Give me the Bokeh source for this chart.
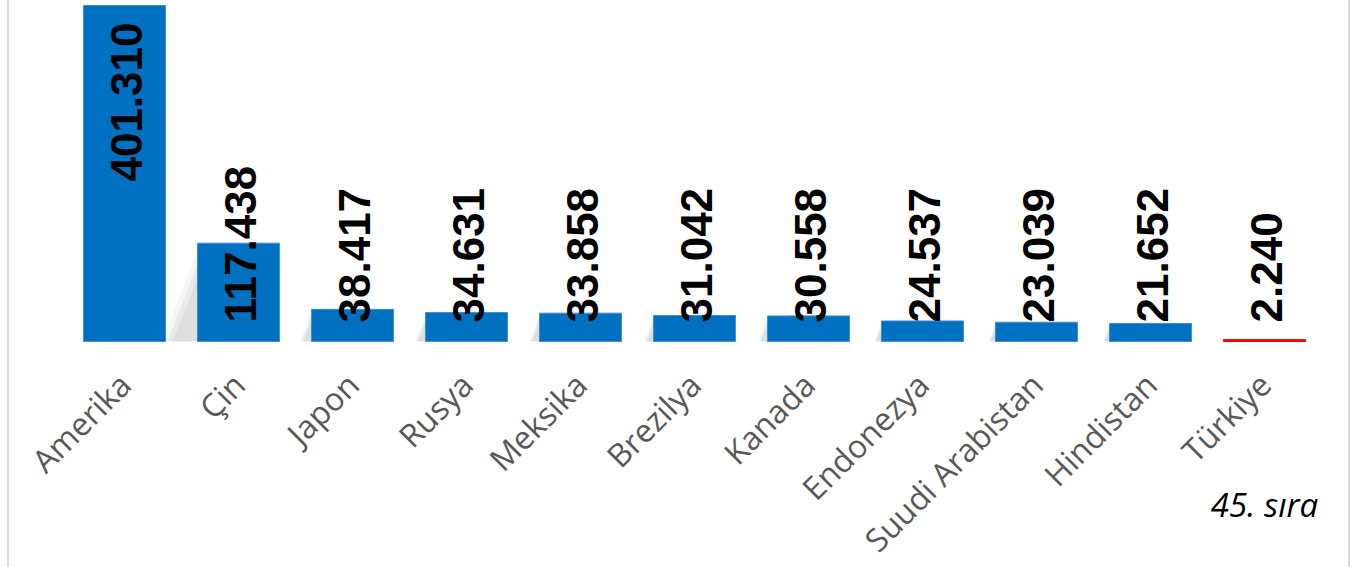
import math
from bokeh.plotting import figure
from bokeh.models import Range1d, FixedTicker, Label, ColumnDataSource
from bokeh.core.properties import value
from bokeh.embed import file_html
from bokeh.resources import INLINE

# ---- data ----
countries = ["Amerika", "Çin", "Japon", "Rusya", "Meksika", "Brezilya",
             "Kanada", "Endonezya", "Suudi Arabistan", "Hindistan", "Türkiye"]
values = [401.310, 117.438, 38.417, 34.631, 33.858, 31.042,
          30.558, 24.537, 23.039, 21.652, 2.240]
value_labels = ["401.310", "117.438", "38.417", "34.631", "33.858", "31.042",
                "30.558", "24.537", "23.039", "21.652", "2.240"]
note_text = "45. sıra"

# ---- styles ----
BLUE = "#0070C0"
RED = "#FF0000"
fill_colors = [BLUE] * (len(values) - 1) + [RED]
line_colors = ["#3f8fd2"] * (len(values) - 1) + [RED]

W, H = 1343, 567
BASE_PX = 341                     # baseline distance from top
PX_PER_VAL = 336 / 401.310
Y_END = BASE_PX / PX_PER_VAL
Y_START = -(H - BASE_PX) / PX_PER_VAL
PX_PER_X = 114.0
X_START = (9 - 124) / PX_PER_X
X_END = X_START + W / PX_PER_X

xs = list(range(len(countries)))

p = figure(width=W, height=H, output_backend="svg", toolbar_location=None,
           x_range=Range1d(X_START, X_END), y_range=Range1d(Y_START, Y_END),
           y_axis_location=None,
           min_border_left=0, min_border_right=0, min_border_top=0,
           min_border_bottom=0,
           outline_line_color=None,
           background_fill_color="white", border_fill_color="white")
p.styles = {"border-left": "2px solid #d9d9d9", "border-right": "2px solid #d9d9d9",
            "margin-left": "7px"}
p.xgrid.visible = False
p.ygrid.visible = False

# soft shadows (computed from values), behind bars
BW = 0.72
for k, a in ((1.0, 0.07), (0.85, 0.09), (0.7, 0.11)):
    sx, sy = [], []
    for i, v in enumerate(values):
        if i == 0 or i == len(values) - 1:
            continue
        xl = xs[i] - BW / 2
        hpx = v * PX_PER_VAL
        dx = 0.36 * hpx * k / PX_PER_X
        sx.append([xl, xl, xl - dx])
        sy.append([0, v * (0.92 * k), 0])
    p.patches(xs=sx, ys=sy, fill_color="#7f7f7f", fill_alpha=a, line_color=None)

src = ColumnDataSource(dict(x=xs, top=values, fill=fill_colors, line=line_colors,
                            lab=value_labels))
p.vbar(x="x", top="top", bottom=0, width=BW, source=src,
       fill_color="fill", line_color="line", line_width=1)

# value labels
src_first = ColumnDataSource(dict(x=xs[:1], y=values[:1], t=value_labels[:1]))
src_rest = ColumnDataSource(dict(x=xs[1:], y=[0] * (len(xs) - 1), t=value_labels[1:]))
common = dict(angle=math.pi / 2, text_baseline="middle",
              text_font=value("Liberation Sans"), text_font_style="bold",
              text_font_size="44px", text_color="black", x_offset=2)
p.text(x="x", y="y", text="t", source=src_first, text_align="right",
       y_offset=17, **common)
p.text(x="x", y="y", text="t", source=src_rest, text_align="left",
       y_offset=-19, **common)

# x axis drawn at the baseline
ax = p.xaxis[0]
ax.fixed_location = 0
ax.ticker = FixedTicker(ticks=xs)
ax.major_label_overrides = {i: c for i, c in zip(xs, countries)}
ax.axis_line_color = None
ax.major_tick_line_color = None
ax.minor_tick_line_color = None
ax.major_tick_out = 0
ax.major_tick_in = 0
ax.major_label_orientation = math.pi / 4
ax.major_label_text_font = "Open Sans"
ax.major_label_text_font_size = "32px"
ax.major_label_text_color = "#595959"
ax.major_label_standoff = 37

note = Label(x=xs[-1], y=-163 / PX_PER_VAL, x_units="data", y_units="data",
             text=note_text, text_align="center", text_baseline="alphabetic",
             text_font="Open Sans", text_font_style="italic",
             text_font_size="33px", text_color="black")
p.add_layout(note)

open("out.html", "w").write(file_html(p, INLINE))
